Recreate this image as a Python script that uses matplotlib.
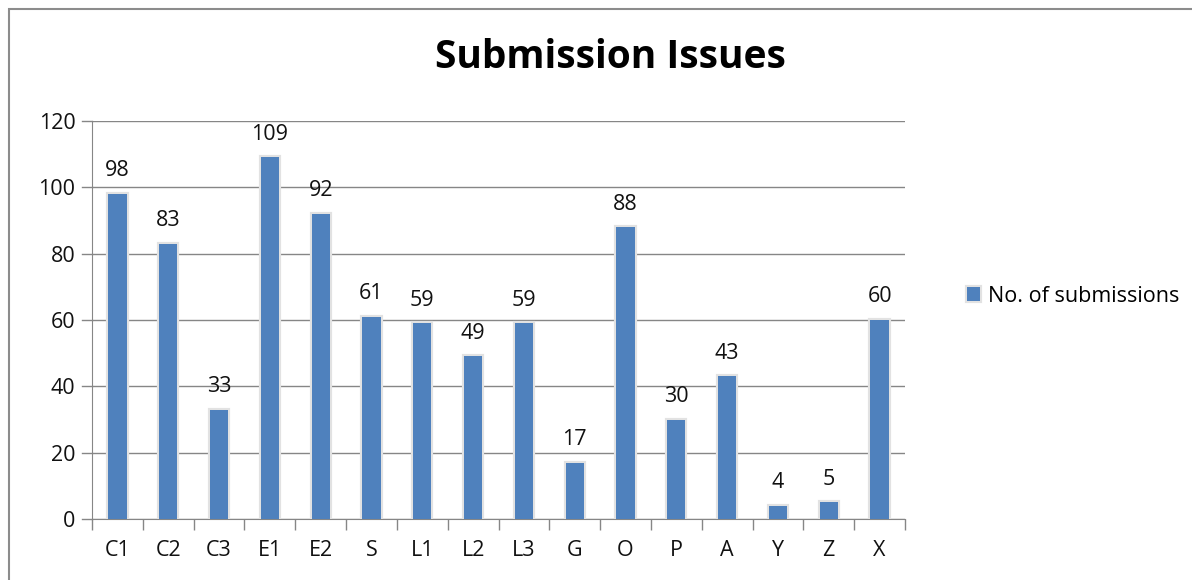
import matplotlib.pyplot as plt
import matplotlib.patheffects as pe
from matplotlib.patches import Rectangle

categories = ['C1', 'C2', 'C3', 'E1', 'E2', 'S', 'L1', 'L2', 'L3', 'G', 'O', 'P', 'A', 'Y', 'Z', 'X']
submissions = [98, 83, 33, 109, 92, 61, 59, 49, 59, 17, 88, 30, 43, 4, 5, 60]
yticks = [0, 20, 40, 60, 80, 100, 120]

plt.rcParams['font.family'] = ['Open Sans', 'DejaVu Sans']
blue = '#4F81BD'
gray = '#868686'

fig = plt.figure(figsize=(11.92, 5.8), dpi=100)
fig.patches.append(Rectangle((9 / 1192, -0.1), 1.2, 1 - 9 / 580 + 0.1,
                             transform=fig.transFigure, fill=False,
                             edgecolor='#8c8c8c', linewidth=1.5))

ax = fig.add_axes([92 / 1192, 1 - 519 / 580, (905 - 92) / 1192, (519 - 121) / 580])
x = range(len(categories))
bars = ax.bar(x, submissions, width=0.36, color=blue, zorder=3,
              label='No. of submissions')
for b in bars:
    b.set_path_effects([pe.withStroke(linewidth=3, foreground='#e2e2e2'), pe.Normal()])

for xi, v in zip(x, submissions):
    ax.annotate(str(v), (xi, v), xytext=(0, 9), textcoords='offset points',
                ha='center', va='bottom', fontsize=15.5, color='#111111')

ax.set_xlim(-0.5, len(categories) - 0.5)
ax.set_ylim(0, 120)
ax.set_yticks(yticks)
ax.tick_params(axis='y', length=0, pad=12, labelsize=15.5, colors='#111111')
ax.set_xticks(x)
ax.set_xticklabels(categories)
ax.tick_params(axis='x', length=0, pad=15, labelsize=15.5, colors='#111111')
ax.set_xticks([i - 0.5 for i in range(len(categories) + 1)], minor=True)
ax.tick_params(axis='x', which='minor', length=8, color=gray, width=1)

ax.grid(axis='y', color=gray, linewidth=1, zorder=0)
for s in ['top', 'right']:
    ax.spines[s].set_visible(False)
ax.spines['left'].set_color(gray)
ax.spines['bottom'].set_color(gray)
# gridlines extend a little left of the axis
for t in yticks:
    ax.plot([-0.7, -0.5], [t, t], color=gray, linewidth=1, clip_on=False, zorder=0)

fig.text(610 / 1192, 1 - 57 / 580, 'Submission Issues', ha='center', va='center',
         fontsize=28, fontweight='bold', color='#000000')

ax.legend(loc='center left', bbox_to_anchor=(1.052, 0.56), frameon=False,
          fontsize=15.5, handlelength=0.6, handleheight=0.6, handletextpad=0.4)

fig.savefig('out.png', dpi=100)
